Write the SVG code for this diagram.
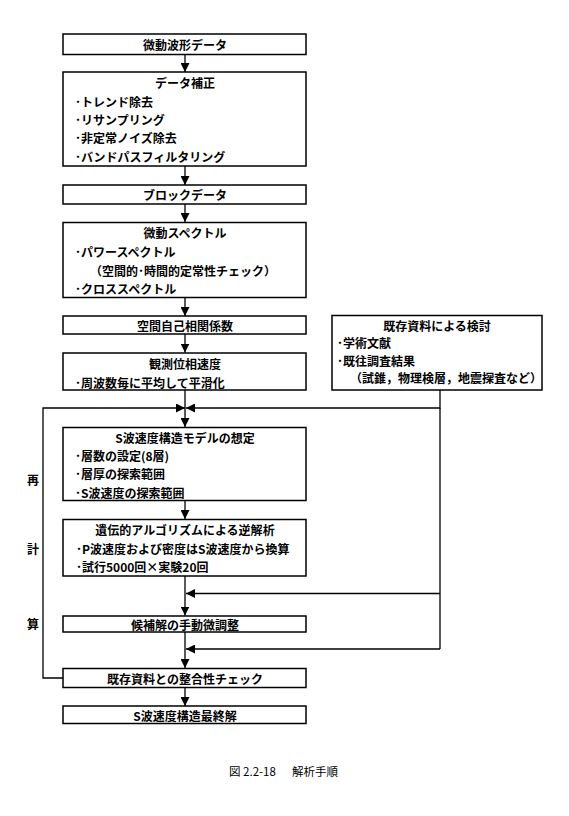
<svg xmlns="http://www.w3.org/2000/svg" width="569" height="816" viewBox="0 0 569 816">
<defs>
<style>
.box{fill:#fff;stroke:#000;stroke-width:1.5}
.ln{fill:none;stroke:#000;stroke-width:1.3}
text{font-family:"Noto Sans CJK JP","Noto Sans CJK SC",sans-serif;font-size:12px;font-weight:bold;fill:#000;dominant-baseline:central}
.c{text-anchor:middle}
.cap{font-weight:normal;font-size:11.5px}
</style>
<marker id="ah" viewBox="0 0 10 10" refX="10" refY="5" markerWidth="9" markerHeight="9" markerUnits="userSpaceOnUse" orient="auto">
<path d="M0,0 L10,5 L0,10 Z" fill="#000"/>
</marker>
</defs>
<rect width="569" height="816" fill="#fff"/>

<g id="connectors">
<line class="ln" x1="185" y1="55" x2="185" y2="72" marker-end="url(#ah)"/>
<line class="ln" x1="185" y1="166" x2="185" y2="185" marker-end="url(#ah)"/>
<line class="ln" x1="185" y1="204" x2="185" y2="222" marker-end="url(#ah)"/>
<line class="ln" x1="185" y1="297" x2="185" y2="316" marker-end="url(#ah)"/>
<line class="ln" x1="185" y1="334" x2="185" y2="352.5" marker-end="url(#ah)"/>
<line class="ln" x1="185" y1="390" x2="185" y2="427" marker-end="url(#ah)"/>
<polyline class="ln" points="63,678 43,678 43,408 185,408" marker-end="url(#ah)"/>
<polyline class="ln" points="440,390 440,408 186,408" marker-end="url(#ah)"/>
<line class="ln" x1="185" y1="501" x2="185" y2="519" marker-end="url(#ah)"/>
<line class="ln" x1="185" y1="576" x2="185" y2="615.5" marker-end="url(#ah)"/>
<line class="ln" x1="440" y1="408" x2="440" y2="649"/>
<line class="ln" x1="440" y1="593.5" x2="186" y2="593.5" marker-end="url(#ah)"/>
<line class="ln" x1="185" y1="632" x2="185" y2="668" marker-end="url(#ah)"/>
<line class="ln" x1="440" y1="649" x2="186" y2="649" marker-end="url(#ah)"/>
<line class="ln" x1="185" y1="687.5" x2="185" y2="706" marker-end="url(#ah)"/>
</g>

<g id="n1">
<rect class="box" x="63" y="34" width="243" height="20.5"/>
<text class="c" x="185" y="44.5">微動波形データ</text>
</g>
<g id="n2">
<rect class="box" x="63" y="72" width="243" height="94"/>
<text class="c" x="185" y="82.5">データ補正</text>
<text x="75" y="101.5">･トレンド除去</text>
<text x="75" y="119.5">･リサンプリング</text>
<text x="75" y="137.5">･非定常ノイズ除去</text>
<text x="75" y="156">･バンドパスフィルタリング</text>
</g>
<g id="n3">
<rect class="box" x="63" y="185" width="243" height="19"/>
<text class="c" x="185" y="194.5">ブロックデータ</text>
</g>
<g id="n4">
<rect class="box" x="63" y="222.5" width="243" height="75"/>
<text class="c" x="185" y="232.5">微動スペクトル</text>
<text x="75" y="251.5">･パワースペクトル</text>
<text x="90" y="270">（空間的･時間的定常性チェック）</text>
<text x="75" y="288.5">･クロススペクトル</text>
</g>
<g id="n5">
<rect class="box" x="63" y="316" width="243" height="18"/>
<text class="c" x="185" y="325.5">空間自己相関係数</text>
</g>
<g id="n6">
<rect class="box" x="63" y="353" width="243" height="37"/>
<text class="c" x="185" y="363.5">観測位相速度</text>
<text x="75" y="382">･周波数毎に平均して平滑化</text>
</g>
<g id="n7">
<rect class="box" x="332" y="315.5" width="210" height="74.5"/>
<text class="c" x="437" y="325">既存資料による検討</text>
<text x="337" y="342.5" font-size="11.5">･学術文献</text>
<text x="337" y="360" font-size="11.5">･既往調査結果</text>
<text x="350" y="377" font-size="11.5">（試錐，物理検層，地震探査など）</text>
</g>
<g id="n8">
<rect class="box" x="63" y="427.5" width="243" height="73"/>
<text class="c" x="185" y="437">S波速度構造モデルの想定</text>
<text x="75" y="455">･層数の設定(8層)</text>
<text x="75" y="473.5">･層厚の探索範囲</text>
<text x="75" y="492">･S波速度の探索範囲</text>
</g>
<g id="n9">
<rect class="box" x="63" y="519.5" width="243" height="56.5"/>
<text class="c" x="185" y="529.5">遺伝的アルゴリズムによる逆解析</text>
<text x="76" y="548.5">･P波速度および密度はS波速度から換算</text>
<text x="76" y="566.5">･試行5000回×実験20回</text>
</g>
<g id="n10">
<rect class="box" x="63" y="616" width="243" height="16"/>
<text class="c" x="185" y="624">候補解の手動微調整</text>
</g>
<g id="n11">
<rect class="box" x="63" y="668.5" width="243" height="19"/>
<text class="c" x="185" y="678">既存資料との整合性チェック</text>
</g>
<g id="n12">
<rect class="box" x="63" y="706" width="243" height="17.5"/>
<text class="c" x="185" y="715">S波速度構造最終解</text>
</g>
<g id="labels">
<text class="c" x="33" y="479">再</text>
<text class="c" x="33" y="548">計</text>
<text class="c" x="33" y="623">算</text>
<text class="cap" x="229" y="771">図 2.2-18</text>
<text class="cap" x="292" y="771">解析手順</text>
</g>
</svg>
